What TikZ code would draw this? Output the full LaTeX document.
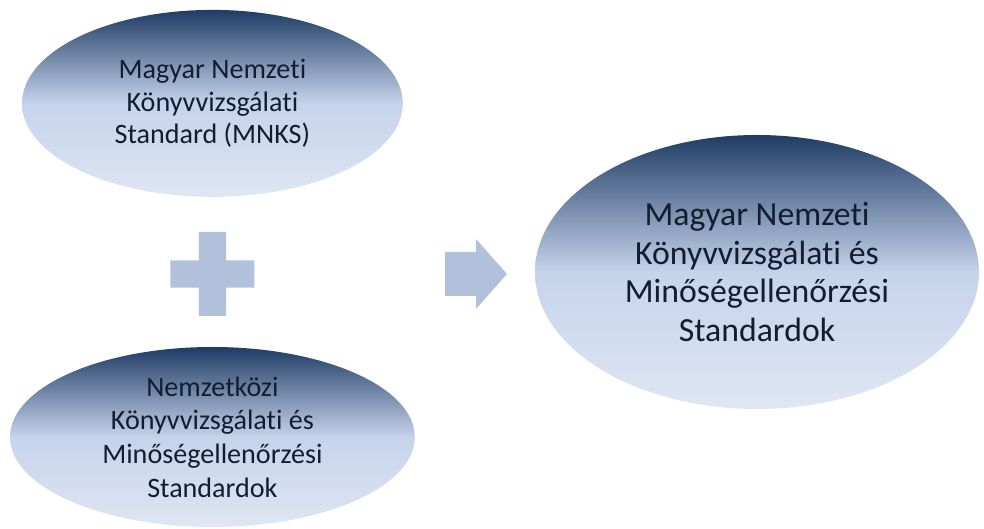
\documentclass[tikz,border=0pt]{standalone}
\usepackage{fontspec}
\setmainfont[Ligatures=NoCommon]{Carlito}
\usetikzlibrary{shapes.geometric}

\definecolor{ovaltop}{HTML}{1F3C64}
\definecolor{ovalmid}{HTML}{C5D3EC}
\definecolor{ovallow}{HTML}{DFE6F3}
\definecolor{signblue}{HTML}{B1C1DB}
\definecolor{ovaltext}{HTML}{111E30}

\pgfdeclareverticalshading{ovalshade}{100bp}{color(0bp)=(ovallow); color(25bp)=(ovallow); color(50bp)=(ovalmid); color(75bp)=(ovaltop); color(100bp)=(ovaltop)}

\tikzset{
  oval/.style={ellipse, shading=ovalshade, inner sep=0pt, align=center, text=ovaltext},
  smalltext/.style={font=\fontsize{20}{23}\selectfont},
  bigtext/.style={font=\fontsize{24}{27.5}\selectfont},
  sign/.style={fill=signblue, draw=none}
}

\begin{document}
\begin{tikzpicture}
\useasboundingbox (0,0) rectangle (24.6,13.225);

% Two input standards
\node[oval, smalltext, minimum width=9.52cm, minimum height=4.675cm] (mnks) at (5.31,10.64) {Magyar Nemzeti\\
Könyvvizsgálati\\
Standard (MNKS)};
\node[oval, smalltext, font=\fontsize{20}{24}\selectfont, minimum width=10.12cm, minimum height=4.5cm] (intl) at (5.31,2.3) {Nemzetközi\\
Könyvvizsgálati és\\
Minőségellenőrzési\\
Standardok};

% Result
\node[oval, bigtext, minimum width=11.1cm, minimum height=6.85cm] (result) at (18.925,6.425) {Magyar Nemzeti\\
Könyvvizsgálati és\\
Minőségellenőrzési\\
Standardok};

% Plus and arrow signs
\coordinate (plus) at (5.31,6.375);
\coordinate (arrow) at (11.9,6.375);
\fill[sign, shift={(plus)}] (-1.05,-0.34) rectangle (1.05,0.34) (-0.34,-1.05) rectangle (0.34,1.05);
\fill[sign, shift={(arrow)}] (-0.775,-0.55) -- (0,-0.55) -- (0,-0.875) -- (0.775,0) -- (0,0.875) -- (0,0.55) -- (-0.775,0.55) -- cycle;
\end{tikzpicture}
\end{document}
